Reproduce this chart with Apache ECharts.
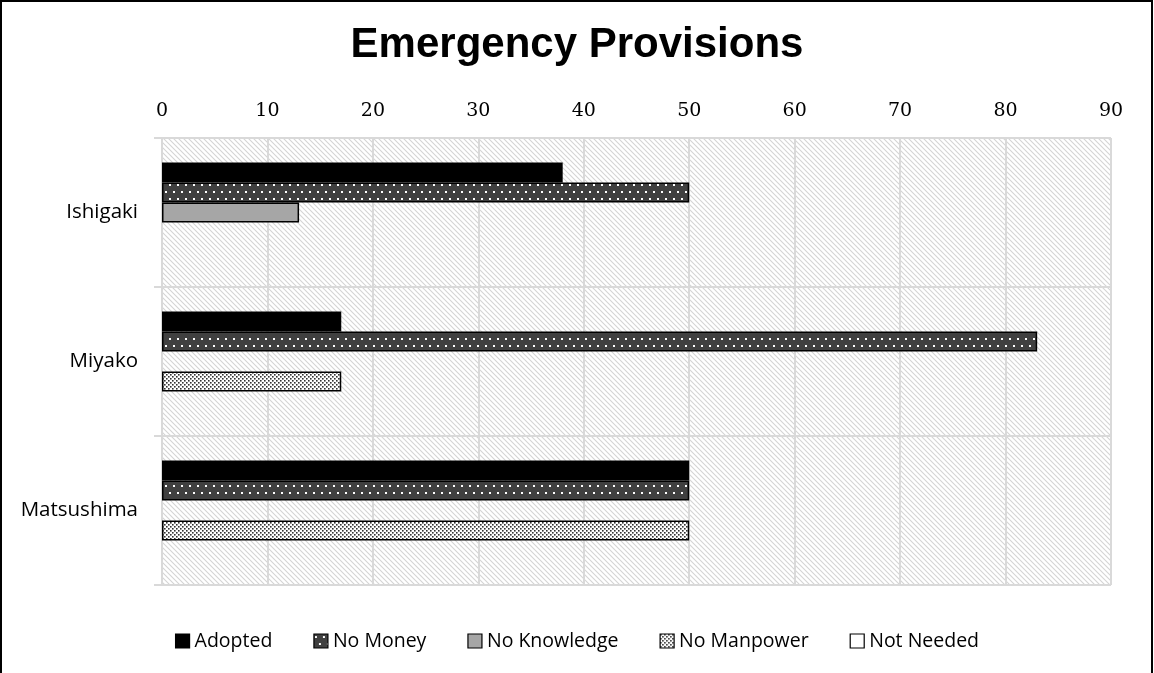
<!DOCTYPE html>
<html>
<head>
<meta charset="utf-8">
<script src="https://cdn.jsdelivr.net/npm/echarts@6/dist/echarts.min.js"></script>
<style>html,body{margin:0;padding:0;background:#fff;}#c{width:1154px;height:673px;}</style>
</head>
<body>
<div id="c"></div>
<script>
const categories = ['Ishigaki', 'Miyako', 'Matsushima'];
const seriesNames = ['Adopted', 'No Money', 'No Knowledge', 'No Manpower', 'Not Needed'];
const adopted = [38, 17, 50];
const noMoney = [50, 83, 50];
const noKnowledge = [13, 0, 0];
const noManpower = [0, 17, 50];
const notNeeded = [0, 0, 0];
const xTicks = [0, 10, 20, 30, 40, 50, 60, 70, 80, 90];

function tile(w, h, draw) {
  const c = document.createElement('canvas');
  c.width = w; c.height = h;
  const g = c.getContext('2d');
  draw(g, w, h);
  return { image: c, repeat: 'repeat' };
}
const hatch = tile(5, 5, (g, w, h) => {
  g.fillStyle = '#fff'; g.fillRect(0, 0, w, h);
  g.strokeStyle = '#d4d4d4'; g.lineWidth = 1.1;
  g.beginPath();
  g.moveTo(-1, -1); g.lineTo(w + 1, h + 1);
  g.moveTo(-1, h - 1); g.lineTo(1, h + 1);
  g.moveTo(w - 1, -1); g.lineTo(w + 1, 1);
  g.stroke();
});
const dotsWhite = tile(8, 14, (g, w, h) => {
  g.fillStyle = '#404040'; g.fillRect(0, 0, w, h);
  g.fillStyle = '#fff';
  g.fillRect(1, 2, 2, 2);
  g.fillRect(5, 9, 2, 2);
});
const dotsDark = tile(4, 4, (g, w, h) => {
  g.fillStyle = '#fff'; g.fillRect(0, 0, w, h);
  g.fillStyle = '#333';
  g.fillRect(0, 0, 1.6, 1.6);
  g.fillRect(2, 2, 1.6, 1.6);
});

const fills = ['#000', dotsWhite, '#a6a6a6', dotsDark, '#fff'];
const values = [adopted, noMoney, noKnowledge, noManpower, notNeeded];

const chart = echarts.init(document.getElementById('c'));
chart.setOption({
  animation: false,
  backgroundColor: '#fff',
  title: {
    text: 'Emergency Provisions',
    left: 'center',
    top: 19,
    textStyle: { fontFamily: 'Liberation Sans', fontWeight: 'bold', fontSize: 42, color: '#000' }
  },
  legend: {
    data: seriesNames,
    left: 'center',
    top: 626,
    itemWidth: 14,
    itemHeight: 14,
    itemGap: 41,
    icon: 'rect',
    textStyle: { fontFamily: 'Open Sans', fontSize: 19.5, color: '#000' },
    itemStyle: { borderColor: '#000', borderWidth: 1.2 }
  },
  grid: {
    left: 162, right: 43, top: 138, bottom: 88,
    show: true,
    backgroundColor: hatch,
    borderWidth: 0
  },
  xAxis: {
    type: 'value',
    position: 'top',
    min: 0, max: 90, interval: 10,
    axisLine: { show: false },
    axisTick: { show: false },
    axisLabel: {
      margin: 17,
      fontFamily: 'DejaVu Serif', fontSize: 19, color: '#000',
      formatter: v => String(xTicks[Math.round(v / 10)])
    },
    splitLine: { show: true, lineStyle: { color: '#d9d9d9', width: 2 } }
  },
  yAxis: {
    type: 'category',
    inverse: true,
    data: categories,
    axisLine: { show: true, lineStyle: { color: '#d9d9d9', width: 2 } },
    axisTick: { show: true, length: 8, lineStyle: { color: '#d9d9d9', width: 2 } },
    axisLabel: { margin: 24, fontFamily: 'Open Sans', fontSize: 20.5, color: '#000' },
    splitLine: { show: true, lineStyle: { color: '#d9d9d9', width: 2 } }
  },
  series: seriesNames.map((n, i) => ({
    name: n,
    type: 'bar',
    data: values[i].map(v => v === 0 ? null : v),
    barGap: '0%',
    barCategoryGap: '33%',
    itemStyle: { color: fills[i], borderColor: '#000', borderWidth: i === 0 ? 0 : 1.5 }
  })),
  graphic: [{
    type: 'rect',
    shape: { x: 1, y: 1, width: 1151, height: 720 },
    style: { fill: 'none', stroke: '#000', lineWidth: 2 },
    z: 100
  }]
});
</script>
</body>
</html>
